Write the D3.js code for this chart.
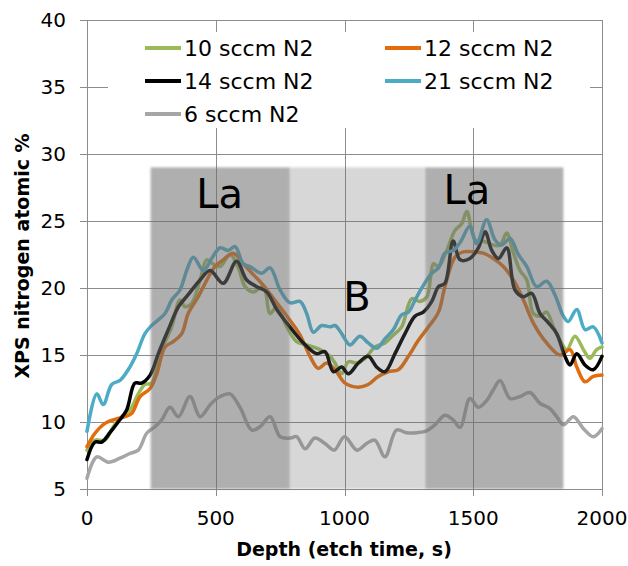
<!DOCTYPE html>
<html lang="en">
<head>
    <meta charset="UTF-8">
    <title>XPS nitrogen</title>
    <script src="https://d3js.org/d3.v7.min.js" type="text/JavaScript"></script>
    <style>
        body { margin: 0; background: #fff; }
        text { font-family: "DejaVu Sans", sans-serif; }
    </style>
</head>

<body>
<svg height="566" id="chart" width="628"></svg>
<script>
    // series data: time (s) and nitrogen atomic %
    var t10 = [0, 31, 70, 102, 134, 167, 199, 225, 251, 283, 329, 361, 381, 407, 439, 465, 490, 517, 555, 588, 614, 646, 685, 711, 737, 776, 814, 853, 905, 944, 963, 989, 1015, 1048, 1080, 1118, 1157, 1190, 1222, 1261, 1293, 1320, 1346, 1365, 1397, 1429, 1455, 1475, 1507, 1539, 1578, 1604, 1630, 1656, 1682, 1708, 1733, 1759, 1785, 1811, 1837, 1863, 1895, 1928, 1953, 1979, 2000];
    var v10 = [7.9, 8.65, 8.65, 9.65, 10.4, 10.9, 12.1, 12.8, 12.9, 15.1, 17.1, 19.1, 18.6, 18.85, 20.6, 22.1, 21.8, 21.6, 22.5, 21.5, 20.1, 19.7, 20.1, 18.1, 18.6, 17.1, 16.0, 15.75, 15.4, 14.9, 14.4, 13.6, 14.5, 14.4, 14.75, 15.6, 15.9, 16.5, 17.1, 19.2, 19.0, 19.35, 21.8, 21.6, 22.8, 24.3, 24.8, 25.7, 23.6, 23.5, 23.2, 23.2, 24.1, 22.6, 21.3, 20.6, 18.1, 17.9, 18.2, 17.1, 16.1, 15.4, 16.4, 15.4, 14.75, 15.4, 15.6];

    var t12 = [0, 31, 70, 109, 148, 174, 206, 245, 271, 303, 335, 368, 393, 432, 471, 497, 529, 568, 607, 646, 685, 737, 788, 827, 866, 898, 931, 963, 1002, 1054, 1092, 1131, 1170, 1209, 1248, 1287, 1326, 1365, 1390, 1429, 1461, 1500, 1539, 1578, 1617, 1656, 1695, 1733, 1785, 1837, 1876, 1902, 1934, 1966, 2000];
    var v12 = [8.16, 9.16, 9.9, 10.2, 10.4, 10.65, 11.9, 12.5, 13.6, 15.6, 16.0, 16.6, 18.1, 19.35, 20.8, 21.6, 22.1, 22.6, 21.8, 21.0, 20.2, 18.9, 17.6, 16.5, 14.9, 14.0, 14.4, 13.9, 12.9, 12.6, 12.8, 13.4, 13.75, 13.9, 14.9, 16.1, 17.1, 18.2, 20.1, 22.3, 22.7, 22.7, 22.6, 22.2, 21.6, 20.6, 19.1, 17.4, 15.9, 15.0, 15.4, 14.1, 13.0, 13.4, 13.5];

    var t14 = [0, 31, 57, 89, 121, 154, 186, 212, 245, 277, 316, 355, 393, 439, 478, 529, 581, 620, 659, 698, 737, 788, 840, 892, 924, 957, 989, 1015, 1054, 1092, 1125, 1157, 1196, 1235, 1274, 1306, 1339, 1365, 1390, 1422, 1449, 1487, 1520, 1546, 1572, 1598, 1630, 1662, 1695, 1727, 1759, 1792, 1824, 1856, 1876, 1902, 1934, 1966, 2000];
    var v14 = [7.2, 8.5, 8.5, 9.2, 10.0, 10.9, 12.9, 12.9, 13.5, 15.1, 16.9, 18.6, 19.5, 20.6, 21.3, 20.35, 22.0, 20.6, 20.1, 19.7, 18.4, 17.1, 15.9, 15.1, 15.25, 13.75, 14.1, 13.6, 14.4, 14.9, 14.1, 13.75, 15.1, 16.6, 17.9, 18.2, 19.0, 20.1, 20.35, 23.5, 22.1, 22.2, 23.0, 24.2, 22.8, 22.2, 23.0, 19.85, 19.35, 19.6, 18.1, 17.4, 16.6, 14.9, 14.25, 15.1, 14.25, 13.9, 14.9];

    var t21 = [0, 38, 63, 96, 128, 160, 193, 225, 251, 303, 329, 361, 387, 413, 452, 484, 517, 549, 575, 607, 633, 678, 711, 750, 788, 827, 853, 879, 911, 944, 963, 989, 1021, 1060, 1092, 1125, 1157, 1190, 1222, 1248, 1274, 1300, 1339, 1365, 1390, 1422, 1449, 1487, 1513, 1552, 1584, 1610, 1643, 1675, 1708, 1746, 1785, 1817, 1850, 1869, 1902, 1934, 1966, 2000];
    var v21 = [9.3, 12.1, 11.3, 12.8, 13.1, 13.9, 15.1, 16.6, 17.2, 18.1, 19.1, 19.85, 21.3, 22.3, 21.3, 22.2, 23.0, 22.8, 23.1, 21.8, 21.6, 21.1, 21.5, 19.85, 18.9, 19.0, 18.1, 16.7, 17.2, 17.1, 17.2, 16.6, 15.75, 16.4, 15.9, 15.5, 16.2, 16.9, 18.0, 18.2, 19.1, 20.0, 21.1, 21.5, 22.6, 22.8, 23.4, 24.6, 23.3, 25.1, 23.6, 23.2, 23.7, 22.5, 21.6, 20.1, 20.5, 19.5, 17.9, 17.5, 18.4, 16.9, 17.1, 15.9];

    var t6 = [0, 38, 83, 128, 167, 199, 232, 264, 290, 322, 355, 400, 439, 481, 517, 555, 594, 640, 672, 711, 750, 788, 814, 847, 885, 924, 960, 1000, 1048, 1086, 1118, 1157, 1202, 1241, 1280, 1313, 1352, 1390, 1422, 1449, 1487, 1520, 1552, 1578, 1604, 1643, 1682, 1720, 1759, 1798, 1824, 1850, 1889, 1928, 1966, 2000];
    var v6 = [5.8, 7.4, 7.0, 7.3, 7.65, 7.9, 9.16, 9.65, 10.15, 11.1, 10.4, 11.9, 10.4, 11.35, 11.9, 12.1, 11.1, 9.4, 9.65, 10.4, 8.9, 8.8, 8.9, 8.0, 8.8, 8.4, 7.9, 8.9, 7.9, 8.4, 8.65, 7.4, 9.4, 9.2, 9.2, 9.3, 9.8, 10.5, 10.15, 9.6, 11.75, 11.1, 11.6, 12.4, 13.1, 11.75, 11.9, 12.2, 11.4, 11.0, 10.4, 9.8, 10.4, 9.5, 8.9, 9.5];

    var seriesNames = ["10 sccm N2", "12 sccm N2", "14 sccm N2", "21 sccm N2", "6 sccm N2"];
    var seriesColors = ["#9bbb59", "#e46c0a", "#000000", "#4bacc6", "#a6a6a6"];
    var seriesTimes = [t10, t12, t14, t21, t6];
    var seriesValues = [v10, v12, v14, v21, v6];

    // shaded layers (La / B / La)
    var bandStart = [247, 788, 1313];
    var bandEnd = [788, 1313, 1850];
    var bandTop = [29, 29, 29];
    var bandOpacity = [0.55, 0.27, 0.55];
    var bandLabel = ["La", "B", "La"];
    var labelX = [515, 1048, 1475];
    var labelY = [26.0, 18.3, 26.3];

    var xTicks = [0, 500, 1000, 1500, 2000];
    var yTicks = [5, 10, 15, 20, 25, 30, 35, 40];

    var svg = d3.select('#chart');
    var plotLeft = 87, plotRight = 602, plotTop = 20, plotBottom = 489;
    var x = d3.scaleLinear().domain([0, 2000]).range([plotLeft, plotRight]);
    var y = d3.scaleLinear().domain([5, 40]).range([plotBottom, plotTop]);
    var gridColor = "#8c8c8c";

    // soft edge for the shaded bands
    svg.append('defs').append('filter').attr('id', 'soft')
        .append('feGaussianBlur').attr('stdDeviation', 0.8);

    // gridlines
    svg.append('g').selectAll('line').data(yTicks).enter().append('line')
        .attr('x1', plotLeft - 7).attr('x2', plotRight)
        .attr('y1', d => Math.round(y(d)) + 0.5).attr('y2', d => Math.round(y(d)) + 0.5)
        .attr('stroke', gridColor).attr('stroke-width', 1);
    svg.append('g').selectAll('line').data(xTicks).enter().append('line')
        .attr('x1', d => Math.round(x(d)) + 0.5).attr('x2', d => Math.round(x(d)) + 0.5)
        .attr('y1', plotTop).attr('y2', plotBottom + 7)
        .attr('stroke', gridColor).attr('stroke-width', 1);

    // lines
    var line = d3.line()
        .x(d => x(d[0]))
        .y(d => y(d[1]))
        .curve(d3.curveCatmullRom.alpha(0.5));

    for (let i = 0; i < seriesNames.length; i++) {
        let pts = seriesTimes[i].map((t, j) => [t, seriesValues[i][j]]);
        svg.append('path')
            .attr('d', line(pts))
            .attr('fill', 'none')
            .attr('stroke', seriesColors[i])
            .attr('stroke-width', 3.5)
            .attr('stroke-linejoin', 'round')
            .attr('stroke-linecap', 'round');
    }

    // shaded bands drawn over the lines
    svg.append('g').selectAll('rect').data(bandStart).enter().append('rect')
        .attr('x', (d, i) => x(d))
        .attr('y', (d, i) => y(bandTop[i]))
        .attr('width', (d, i) => x(bandEnd[i]) - x(d))
        .attr('height', (d, i) => y(5) - y(bandTop[i]))
        .attr('fill', '#6e6e6e')
        .attr('opacity', (d, i) => bandOpacity[i])
        .attr('filter', 'url(#soft)');

    svg.append('g').selectAll('text').data(bandLabel).enter().append('text')
        .attr('x', (d, i) => x(labelX[i]))
        .attr('y', (d, i) => y(labelY[i]))
        .attr('text-anchor', 'middle')
        .attr('font-size', 40)
        .attr('fill', '#000')
        .text(d => d);

    // legend
    var lg = svg.append('g');
    lg.append('rect').attr('x', 108).attr('y', 32).attr('width', 482).attr('height', 96).attr('fill', '#fff');
    var legX = [145, 385], legY = [48, 81, 114];
    seriesNames.forEach(function (name, i) {
        let lx = legX[i % 2], ly = legY[Math.floor(i / 2)];
        lg.append('line').attr('x1', lx).attr('x2', lx + 36).attr('y1', ly).attr('y2', ly)
            .attr('stroke', seriesColors[i]).attr('stroke-width', 4);
        lg.append('text').attr('x', lx + 39).attr('y', ly).attr('dy', '0.36em')
            .attr('font-size', 22).text(name);
    });

    // tick labels
    svg.append('g').selectAll('text').data(yTicks).enter().append('text')
        .attr('x', 66).attr('y', d => y(d)).attr('dy', '0.36em')
        .attr('text-anchor', 'end').attr('font-size', 20).text(d => d);
    svg.append('g').selectAll('text').data(xTicks).enter().append('text')
        .attr('x', d => x(d)).attr('y', 518).attr('dy', '0.36em')
        .attr('text-anchor', 'middle').attr('font-size', 20).text(d => d);

    // axis titles
    svg.append('text').attr('x', 344).attr('y', 549).attr('dy', '0.36em')
        .attr('text-anchor', 'middle').attr('font-size', 19).attr('font-weight', 'bold')
        .text('Depth (etch time, s)');
    svg.append('text').attr('transform', 'translate(22,256) rotate(-90)').attr('dy', '0.36em')
        .attr('text-anchor', 'middle').attr('font-size', 19).attr('font-weight', 'bold')
        .text('XPS nitrogen atomic %');
</script>
</body>
</html>
